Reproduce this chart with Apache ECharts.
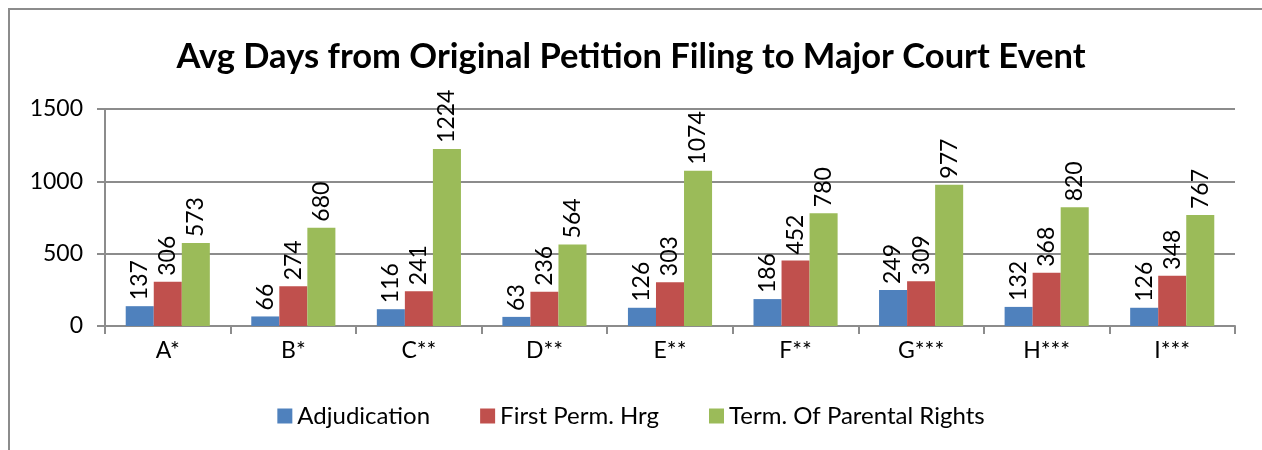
<!DOCTYPE html>
<html>
<head>
<meta charset="utf-8">
<script src="https://cdn.jsdelivr.net/npm/echarts@6/dist/echarts.min.js"></script>
<style>
  html, body { margin: 0; padding: 0; background: #fff; }
  #chart { width: 1262px; height: 450px; }
</style>
</head>
<body>
<div id="chart"></div>
<script>
const categories = ['A*', 'B*', 'C**', 'D**', 'E**', 'F**', 'G***', 'H***', 'I***'];
const adjudication = [137, 66, 116, 63, 126, 186, 249, 132, 126];
const firstPermHrg = [306, 274, 241, 236, 303, 452, 309, 368, 348];
const termParental = [573, 680, 1224, 564, 1074, 780, 977, 820, 767];
const seriesNames = ['Adjudication', 'First Perm. Hrg', 'Term. Of Parental Rights'];

const font = 'Lato, "Open Sans", sans-serif';

const chart = echarts.init(document.getElementById('chart'));

const barLabel = {
  show: true,
  position: 'top',
  rotate: 90,
  align: 'left',
  verticalAlign: 'middle',
  distance: 6,
  fontSize: 23,
  fontFamily: font,
  color: '#000'
};

function makeSeries(name, data, color) {
  return {
    name: name,
    type: 'bar',
    data: data,
    barGap: '0%',
    barCategoryGap: '33%',
    itemStyle: { color: color },
    label: barLabel
  };
}

const option = {
  animation: false,
  backgroundColor: '#fff',
  color: ['#4F81BD', '#C0504D', '#9BBB59'],
  title: {
    text: 'Avg Days from Original Petition Filing to Major Court Event',
    left: 'center',
    top: 34,
    textStyle: {
      fontFamily: font,
      fontSize: 34.5,
      fontWeight: 'bold',
      color: '#000'
    }
  },
  graphic: [{
    type: 'rect',
    shape: { x: 9, y: 9, width: 1300, height: 500 },
    style: { fill: 'none', stroke: '#8c8c8c', lineWidth: 2 },
    silent: true
  }],
  legend: {
    bottom: 17,
    left: 'center',
    itemWidth: 15,
    itemHeight: 15,
    itemGap: 50,
    icon: 'rect',
    textStyle: { fontFamily: font, fontSize: 24, color: '#000' },
    data: seriesNames
  },
  grid: {
    left: 105,
    right: 27,
    top: 109,
    bottom: 124,
    containLabel: false
  },
  xAxis: {
    type: 'category',
    data: categories,
    axisLine: { lineStyle: { color: '#8c8c8c', width: 2 } },
    axisTick: { show: true, length: 8, lineStyle: { color: '#8c8c8c', width: 2 } },
    axisLabel: { fontFamily: font, fontSize: 23, color: '#000', margin: 13 }
  },
  yAxis: {
    type: 'value',
    min: 0,
    max: 1500,
    interval: 500,
    axisLine: { show: true, lineStyle: { color: '#8c8c8c', width: 2 } },
    axisTick: { show: true, length: 8, lineStyle: { color: '#8c8c8c', width: 2 } },
    splitLine: { lineStyle: { color: '#8c8c8c', width: 2 } },
    axisLabel: {
      fontFamily: font,
      fontSize: 23,
      color: '#000',
      margin: 22,
      formatter: function (v) { return String(v); }
    }
  },
  series: [
    makeSeries(seriesNames[0], adjudication, '#4F81BD'),
    makeSeries(seriesNames[1], firstPermHrg, '#C0504D'),
    makeSeries(seriesNames[2], termParental, '#9BBB59')
  ]
};

chart.setOption(option);
</script>
</body>
</html>
